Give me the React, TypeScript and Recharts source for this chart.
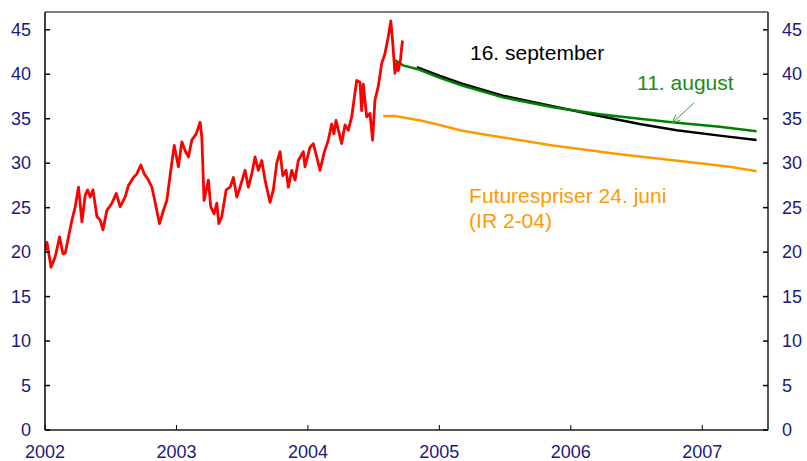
import React from "react";
import { LineChart, Line, XAxis, YAxis, ReferenceLine, ReferenceDot } from "recharts";

// Spot oil price (USD/barrel), decimal years
const spotYears = [
  2002.0, 2002.015, 2002.046, 2002.078, 2002.111, 2002.137, 2002.154, 2002.205, 2002.23, 2002.255,
  2002.281, 2002.306, 2002.324, 2002.344, 2002.365, 2002.395, 2002.42, 2002.441, 2002.471, 2002.509,
  2002.542, 2002.572, 2002.61, 2002.635, 2002.673, 2002.699, 2002.729, 2002.755, 2002.787, 2002.813,
  2002.838, 2002.871, 2002.901, 2002.927, 2002.957, 2002.983, 2003.015, 2003.041, 2003.066, 2003.091,
  2003.117, 2003.15, 2003.18, 2003.193, 2003.21, 2003.243, 2003.261, 2003.286, 2003.307, 2003.322,
  2003.345, 2003.378, 2003.408, 2003.433, 2003.459, 2003.484, 2003.522, 2003.547, 2003.573, 2003.598,
  2003.623, 2003.649, 2003.674, 2003.712, 2003.737, 2003.763, 2003.788, 2003.809, 2003.834, 2003.851,
  2003.877, 2003.902, 2003.927, 2003.965, 2003.978, 2004.016, 2004.041, 2004.067, 2004.092, 2004.122,
  2004.155, 2004.181, 2004.198, 2004.214, 2004.239, 2004.257, 2004.282, 2004.307, 2004.333, 2004.371,
  2004.396, 2004.409, 2004.421, 2004.447, 2004.472, 2004.492, 2004.51, 2004.535, 2004.561, 2004.586,
  2004.611, 2004.631, 2004.644, 2004.662, 2004.675, 2004.687, 2004.705, 2004.713, 2004.72,
];
const spotPrices = [
  20.2, 21.1, 18.3, 19.5, 21.7, 19.8, 19.9, 23.6, 25.1, 27.3,
  23.4, 26.4, 27.0, 26.2, 27.0, 24.0, 23.6, 22.5, 24.7, 25.5,
  26.6, 25.1, 26.2, 27.5, 28.4, 28.8, 29.8, 28.8, 28.1, 27.3,
  25.6, 23.2, 24.7, 25.8, 29.2, 32.0, 29.6, 32.4, 31.4, 30.7,
  32.6, 33.3, 34.6, 32.9, 25.8, 28.1, 25.1, 24.3, 25.5, 23.2,
  24.0, 27.0, 27.3, 28.4, 26.2, 27.3, 29.2, 27.3, 28.8, 30.7,
  29.2, 30.3, 28.1, 25.6, 27.0, 30.0, 31.3, 28.6, 29.2, 27.3,
  29.2, 28.1, 30.3, 31.3, 29.6, 31.8, 32.2, 30.7, 29.2, 31.1,
  32.6, 34.4, 33.3, 34.8, 33.3, 32.2, 34.3, 33.7, 35.2, 39.3,
  39.1, 35.9, 38.9, 35.2, 35.6, 32.6, 37.1, 38.6, 41.2, 42.3,
  44.2, 46.0, 43.8, 40.1, 41.2, 40.4, 41.7, 43.0, 43.8,
];

// Futures prices 16 September
const sep16Years = [2004.829, 2005.004, 2005.179, 2005.483, 2005.862, 2006.22, 2006.523, 2006.805, 2007.132, 2007.413];
const sep16Prices = [40.8, 39.8, 38.9, 37.6, 36.4, 35.3, 34.4, 33.7, 33.1, 32.6];

// Futures prices 11 August
const aug11Years = [2004.662, 2004.723, 2004.829, 2005.004, 2005.179, 2005.483, 2005.862, 2006.22, 2006.523, 2006.767, 2007.132, 2007.413];
const aug11Prices = [41.6, 41.0, 40.6, 39.6, 38.7, 37.4, 36.3, 35.5, 35.0, 34.6, 34.1, 33.6];

// Futures prices 24 June (IR 2-04)
const jun24Years = [2004.573, 2004.662, 2004.737, 2004.856, 2005.004, 2005.156, 2005.308, 2005.483, 2005.688, 2005.862, 2006.068, 2006.372, 2006.676, 2006.979, 2007.207, 2007.413];
const jun24Prices = [35.3, 35.3, 35.1, 34.8, 34.3, 33.7, 33.3, 32.9, 32.4, 32.0, 31.6, 31.0, 30.5, 30.0, 29.6, 29.1];

const yearTicks = [2002, 2003, 2004, 2005, 2006, 2007];
const valueTicks = [0, 5, 10, 15, 20, 25, 30, 35, 40, 45];

const toData = (xs: number[], ys: number[]) => xs.map((t, i) => ({ t, v: ys[i] }));
const spotData = toData(spotYears, spotPrices);
const sep16Data = toData(sep16Years, sep16Prices);
const aug11Data = toData(aug11Years, aug11Prices);
const jun24Data = toData(jun24Years, jun24Prices);

const FONT = "'Liberation Sans', Arial, Helvetica, sans-serif";
const TICK_COLOR = "#1a1a80";

const LeftTick = (props: any) => {
  const { x, y, payload } = props;
  return (
    <g>
      <line x1={x} x2={x + 5} y1={y} y2={y} stroke="#000" strokeWidth={1.5} />
      <text x={x - 14} y={y} textAnchor="end" dominantBaseline="central" fill={TICK_COLOR} fontSize={18} fontFamily={FONT}>
        {payload.value}
      </text>
    </g>
  );
};

const RightTick = (props: any) => {
  const { x, y, payload } = props;
  return (
    <g>
      <line x1={x} x2={x - 5} y1={y} y2={y} stroke="#000" strokeWidth={1.5} />
      <text x={x + 14} y={y} textAnchor="start" dominantBaseline="central" fill={TICK_COLOR} fontSize={18} fontFamily={FONT}>
        {payload.value}
      </text>
    </g>
  );
};

const BottomTick = (props: any) => {
  const { x, y, payload } = props;
  return (
    <g>
      <line x1={x} x2={x} y1={y} y2={y - 5} stroke="#000" strokeWidth={1} />
      <text x={x} y={y + 28} textAnchor="middle" fill={TICK_COLOR} fontSize={18} fontFamily={FONT}>
        {payload.value}
      </text>
    </g>
  );
};

const makeText = (text: string, color: string) => (props: any) => (
  <text x={props.cx} y={props.cy} fill={color} fontSize={21} fontFamily={FONT} textAnchor="start">
    {text}
  </text>
);

const ArrowShape = (props: any) => {
  const { x1, y1, x2, y2 } = props;
  const ang = Math.atan2(y2 - y1, x2 - x1);
  const len = 9;
  const w = 0.4;
  const p1 = [x2 - len * Math.cos(ang - w), y2 - len * Math.sin(ang - w)];
  const p2 = [x2 - len * Math.cos(ang + w), y2 - len * Math.sin(ang + w)];
  return (
    <g>
      <line x1={x1} y1={y1} x2={x2} y2={y2} stroke="#3a9a3a" strokeWidth={1} />
      <polyline points={`${p1[0]},${p1[1]} ${x2},${y2} ${p2[0]},${p2[1]}`} fill="none" stroke="#3a9a3a" strokeWidth={1} />
    </g>
  );
};

export default function App() {
  return (
    <div style={{ position: "absolute", left: 0, top: 0, width: 807, height: 461, background: "#fff" }}>
      <LineChart width={807} height={461} margin={{ top: 12, right: 0, bottom: 0, left: 0 }}>
        <XAxis
          dataKey="t"
          type="number"
          domain={[2002, 2007.5]}
          ticks={yearTicks}
          allowDataOverflow
          height={31}
          tickSize={0}
          tickMargin={0}
          tick={<BottomTick />}
          axisLine={{ stroke: "#555", strokeWidth: 2 }}
          tickLine={false}
          interval={0}
        />
        <YAxis
          yAxisId="left"
          orientation="left"
          type="number"
          domain={[0, 47]}
          ticks={valueTicks}
          allowDataOverflow
          width={45}
          tickSize={0}
          tickMargin={0}
          tick={<LeftTick />}
          axisLine={{ stroke: "#000", strokeWidth: 1.5 }}
          tickLine={false}
          interval={0}
        />
        <YAxis
          yAxisId="right"
          orientation="right"
          type="number"
          domain={[0, 47]}
          ticks={valueTicks}
          allowDataOverflow
          width={39}
          tickSize={0}
          tickMargin={0}
          tick={<RightTick />}
          axisLine={{ stroke: "#555", strokeWidth: 2 }}
          tickLine={false}
          interval={0}
        />
        <ReferenceLine yAxisId="left" y={47} stroke="#000" strokeWidth={1.2} />
        <Line yAxisId="left" data={jun24Data} dataKey="v" stroke="#ff9900" strokeWidth={2.5} dot={false} isAnimationActive={false} />
        <Line yAxisId="left" data={sep16Data} dataKey="v" stroke="#000000" strokeWidth={2.5} dot={false} isAnimationActive={false} />
        <Line yAxisId="left" data={aug11Data} dataKey="v" stroke="#008000" strokeWidth={2.5} dot={false} isAnimationActive={false} />
        <Line yAxisId="left" data={spotData} dataKey="v" stroke="#ff0000" strokeWidth={2.8} strokeLinejoin="round" dot={false} isAnimationActive={false} />
        <ReferenceDot yAxisId="left" x={2005.233} y={41.6} r={0} shape={makeText("16. september", "#000")} />
        <ReferenceDot yAxisId="left" x={2006.504} y={38.23} r={0} shape={makeText("11. august", "#1a8c1a")} />
        <ReferenceDot yAxisId="left" x={2005.226} y={25.52} r={0} shape={makeText("Futurespriser 24. juni", "#ff9900")} />
        <ReferenceDot yAxisId="left" x={2005.226} y={22.71} r={0} shape={makeText("(IR 2-04)", "#ff9900")} />
        <ReferenceLine
          yAxisId="left"
          segment={[{ x: 2006.937, y: 36.77 }, { x: 2006.77, y: 34.52 }]}
          shape={ArrowShape}
        />
      </LineChart>
    </div>
  );
}
